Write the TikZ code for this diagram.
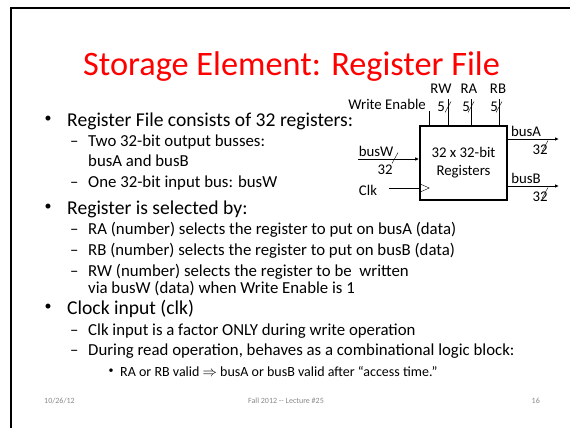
\documentclass[tikz,border=0pt]{standalone}
\usepackage{fontspec}
\setmainfont{Carlito}
\usetikzlibrary{positioning,arrows.meta}
\definecolor{titlered}{RGB}{255,0,0}
\definecolor{footgrey}{RGB}{137,137,137}

\tikzset{
  txt/.style={anchor=base west, inner sep=0pt},
  lvlone/.style={txt, font=\fontsize{19.6}{19.6}\selectfont},
  lvltwo/.style={txt, font=\fontsize{16.8}{16.8}\selectfont},
  lvlthree/.style={txt, font=\fontsize{14}{14}\selectfont},
  dot/.style={inner sep=0pt, font=\fontsize{#1}{#1}\selectfont},
  sig/.style={inner sep=0pt, font=\fontsize{14.8}{14.8}\selectfont},
  foot/.style={anchor=base, inner sep=0pt, text=footgrey, font=\fontsize{8}{8}\selectfont},
  bus/.style={line width=0.9pt},
  busin/.style={bus, -{Latex[length=4pt,width=3.5pt]}},
}

\begin{document}
\begin{tikzpicture}[x=1pt,y=-1pt]
\useasboundingbox (0,0) rectangle (570,428);
\def\slashpath{++(-3,5.5) -- ++(6,-11)}

% slide frame
\draw[line width=2pt] (11,428) -- (11,8) -- (570,8);

\node[anchor=base, inner sep=0pt, text=titlered, font=\fontsize{34.3}{34.3}\selectfont] (title) at (291.5,75) {Storage Element: Register File};

% bullets
\node[dot=14] (b1) at (48,119.5) {•};
\node[lvlone] (t1) at (67,126) {Register File consists of 32 registers:};
\node[lvltwo] (d11) at (70,146) {–};
\node[lvltwo] (t11) at (88,146) {Two 32-bit output busses:};
\node[lvltwo] (t11b) at (88,166) {busA and busB};
\node[lvltwo] (d12) at (70,187) {–};
\node[lvltwo] (t12) at (88,187) {One 32-bit input bus: busW};

\node[dot=14] (b2) at (48,207.5) {•};
\node[lvlone] (t2) at (67,214) {Register is selected by:};
\node[lvltwo] (d21) at (70,234) {–};
\node[lvltwo] (t21) at (88,234) {RA (number) selects the register to put on busA (data)};
\node[lvltwo] (d22) at (70,255.5) {–};
\node[lvltwo] (t22) at (88,255.5) {RB (number) selects the register to put on busB (data)};
\node[lvltwo] (d23) at (70,276.5) {–};
\node[lvltwo] (t23) at (88,276.5) {RW (number) selects the register to be \ written};
\node[lvltwo] (t23b) at (88,293.5) {via busW (data) when Write Enable is 1};

\node[dot=14] (b3) at (48,307.5) {•};
\node[lvlone] (t3) at (67,314) {Clock input (clk)};
\node[lvltwo] (d31) at (70,335) {–};
\node[lvltwo] (t31) at (88,335) {Clk input is a factor ONLY during write operation};
\node[lvltwo] (d32) at (70,355) {–};
\node[lvltwo] (t32) at (88,355) {During read operation, behaves as a combinational logic block:};
\node[dot=10] (b321) at (111,371.5) {•};
\node[lvlthree] (t321) at (120,376) {RA or RB valid $\Rightarrow$ busA or busB valid after “access time.”};

% footer
\node[foot, anchor=base west] (date) at (44,403) {10/26/12};
\node[foot] (lect) at (286,403) {Fall 2012 {-}{-} Lecture \#25};
\node[foot, anchor=base east] (page) at (540,403) {16};

% register file block
\node[draw, line width=1.6pt, minimum width=87pt, minimum height=74pt, align=center,
      sig, font=\fontsize{14.8}{18}\selectfont] (rf) at (463.5,163) {32 x 32-bit\\Registers};

\coordinate (weTop) at (429,111);
\draw[bus] (weTop) -- (weTop |- rf.north);
\node[sig, anchor=east] (we) at (426,104) {Write Enable};

\coordinate (rwTop) at (448,99);
\coordinate (raTop) at (471,99);
\coordinate (rbTop) at (499,99);
\draw[bus] (rwTop) -- (rwTop |- rf.north);
\draw[bus] (raTop) -- (raTop |- rf.north);
\draw[bus] (rbTop) -- (rbTop |- rf.north);
\node[sig] (rw) at (441,89) {RW};
\node[sig] (ra) at (469,89) {RA};
\node[sig] (rb) at (498,89) {RB};
\node[sig] (rwn) at (441,107) {5};
\node[sig] (ran) at (466,107) {5};
\node[sig] (rbn) at (494,107) {5};
\draw (448,107) \slashpath;
\draw (471,107) \slashpath;
\draw (499,107) \slashpath;

\coordinate (busWin) at (358,159);
\draw[busin] (busWin) -- (busWin -| rf.west);
\node[sig, anchor=base] (busW) at (376,156) {busW};
\node[sig] (busWn) at (385,170) {32};
\draw (395,158) \slashpath;

\coordinate (clkIn) at (389,188);
\node[sig] (clk) at (368,190) {Clk};
\draw[bus] (clkIn) -- (clkIn -| rf.west);
\draw (clkIn -| rf.west) ++(0,-4.5) -- ++(10,4.5) -- ++(-10,4.5);

\coordinate (busAout) at (559,139);
\draw[busin] (busAout -| rf.east) -- (busAout);
\node[sig, anchor=base] (busA) at (526,136) {busA};
\node[sig] (busAn) at (540,150) {32};
\draw (545,146) \slashpath;

\coordinate (busBout) at (559,186);
\draw[busin] (busBout -| rf.east) -- (busBout);
\node[sig, anchor=base] (busB) at (526,183) {busB};
\node[sig] (busBn) at (540,197) {32};
\draw (545,193) \slashpath;

\end{tikzpicture}
\end{document}
